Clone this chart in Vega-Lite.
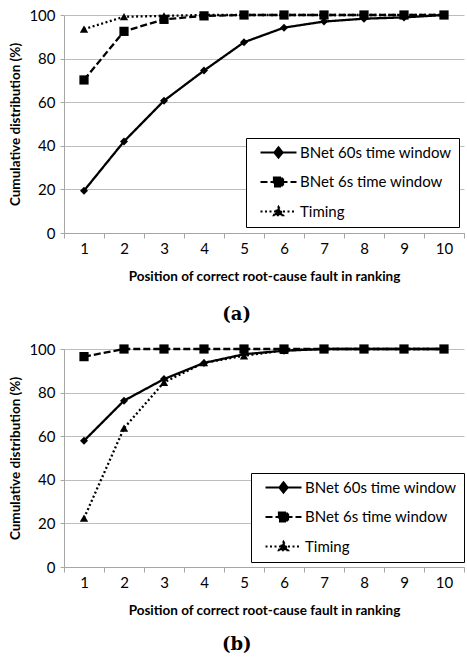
{
  "$schema": "https://vega.github.io/schema/vega-lite/v6.json",
  "padding": {"left": 8, "top": 8, "right": 0, "bottom": 0},
  "background": "white",
  "spacing": 18,
  "config": {
    "view": {"stroke": null},
    "axis": {
      "labelFont": "Lato", "labelFontSize": 15, "labelColor": "black",
      "titleFont": "Lato", "titleFontSize": 13.5, "titleFontWeight": "bold", "titleColor": "black",
      "domainColor": "#a6a6a6", "tickColor": "#a6a6a6", "gridColor": "#bdbdbd", "domainWidth": 1, "tickWidth": 1, "gridWidth": 1
    },
    "legend": {"orient": "none", "title": null,
      "strokeColor": "black", "fillColor": "white", "padding": 7,
      "symbolSize": 100, "symbolStrokeWidth": 2.2, "symbolStrokeColor": "black", "symbolFillColor": "black",
      "symbolOffset": 18, "labelOffset": 14, "labelLimit": 300, "labelFont": "Lato", "labelFontSize": 15, "labelColor": "black", "rowPadding": 10.5},
    "title": {"font": "DejaVu Serif", "fontSize": 18, "fontWeight": "bold", "color": "black", "orient": "bottom", "frame": "bounds", "anchor": "middle", "offset": 23}
  },
  "data": {"values": [
    {"panel": "a", "series": "BNet 60s time window", "pos": 1, "value": 19.4},
    {"panel": "a", "series": "BNet 60s time window", "pos": 2, "value": 42},
    {"panel": "a", "series": "BNet 60s time window", "pos": 3, "value": 60.7},
    {"panel": "a", "series": "BNet 60s time window", "pos": 4, "value": 74.5},
    {"panel": "a", "series": "BNet 60s time window", "pos": 5, "value": 87.5},
    {"panel": "a", "series": "BNet 60s time window", "pos": 6, "value": 94.2},
    {"panel": "a", "series": "BNet 60s time window", "pos": 7, "value": 97},
    {"panel": "a", "series": "BNet 60s time window", "pos": 8, "value": 98.3},
    {"panel": "a", "series": "BNet 60s time window", "pos": 9, "value": 98.9},
    {"panel": "a", "series": "BNet 60s time window", "pos": 10, "value": 100},
    {"panel": "a", "series": "BNet 6s time window", "pos": 1, "value": 70.2},
    {"panel": "a", "series": "BNet 6s time window", "pos": 2, "value": 92.5},
    {"panel": "a", "series": "BNet 6s time window", "pos": 3, "value": 98},
    {"panel": "a", "series": "BNet 6s time window", "pos": 4, "value": 99.6},
    {"panel": "a", "series": "BNet 6s time window", "pos": 5, "value": 100},
    {"panel": "a", "series": "BNet 6s time window", "pos": 6, "value": 100},
    {"panel": "a", "series": "BNet 6s time window", "pos": 7, "value": 100},
    {"panel": "a", "series": "BNet 6s time window", "pos": 8, "value": 100},
    {"panel": "a", "series": "BNet 6s time window", "pos": 9, "value": 100},
    {"panel": "a", "series": "BNet 6s time window", "pos": 10, "value": 100},
    {"panel": "a", "series": "Timing", "pos": 1, "value": 93.5},
    {"panel": "a", "series": "Timing", "pos": 2, "value": 99.2},
    {"panel": "a", "series": "Timing", "pos": 3, "value": 99.6},
    {"panel": "a", "series": "Timing", "pos": 4, "value": 100},
    {"panel": "a", "series": "Timing", "pos": 5, "value": 100},
    {"panel": "a", "series": "Timing", "pos": 6, "value": 100},
    {"panel": "a", "series": "Timing", "pos": 7, "value": 100},
    {"panel": "a", "series": "Timing", "pos": 8, "value": 100},
    {"panel": "a", "series": "Timing", "pos": 9, "value": 100},
    {"panel": "a", "series": "Timing", "pos": 10, "value": 100},
    {"panel": "b", "series": "BNet 60s time window", "pos": 1, "value": 57.9},
    {"panel": "b", "series": "BNet 60s time window", "pos": 2, "value": 76.3},
    {"panel": "b", "series": "BNet 60s time window", "pos": 3, "value": 86.2},
    {"panel": "b", "series": "BNet 60s time window", "pos": 4, "value": 93.6},
    {"panel": "b", "series": "BNet 60s time window", "pos": 5, "value": 97.6},
    {"panel": "b", "series": "BNet 60s time window", "pos": 6, "value": 99.2},
    {"panel": "b", "series": "BNet 60s time window", "pos": 7, "value": 100},
    {"panel": "b", "series": "BNet 60s time window", "pos": 8, "value": 100},
    {"panel": "b", "series": "BNet 60s time window", "pos": 9, "value": 100},
    {"panel": "b", "series": "BNet 60s time window", "pos": 10, "value": 100},
    {"panel": "b", "series": "BNet 6s time window", "pos": 1, "value": 96.5},
    {"panel": "b", "series": "BNet 6s time window", "pos": 2, "value": 100},
    {"panel": "b", "series": "BNet 6s time window", "pos": 3, "value": 100},
    {"panel": "b", "series": "BNet 6s time window", "pos": 4, "value": 100},
    {"panel": "b", "series": "BNet 6s time window", "pos": 5, "value": 100},
    {"panel": "b", "series": "BNet 6s time window", "pos": 6, "value": 100},
    {"panel": "b", "series": "BNet 6s time window", "pos": 7, "value": 100},
    {"panel": "b", "series": "BNet 6s time window", "pos": 8, "value": 100},
    {"panel": "b", "series": "BNet 6s time window", "pos": 9, "value": 100},
    {"panel": "b", "series": "BNet 6s time window", "pos": 10, "value": 100},
    {"panel": "b", "series": "Timing", "pos": 1, "value": 22.4},
    {"panel": "b", "series": "Timing", "pos": 2, "value": 63.7},
    {"panel": "b", "series": "Timing", "pos": 3, "value": 84.7},
    {"panel": "b", "series": "Timing", "pos": 4, "value": 93.7},
    {"panel": "b", "series": "Timing", "pos": 5, "value": 96.9},
    {"panel": "b", "series": "Timing", "pos": 6, "value": 99.4},
    {"panel": "b", "series": "Timing", "pos": 7, "value": 100},
    {"panel": "b", "series": "Timing", "pos": 8, "value": 100},
    {"panel": "b", "series": "Timing", "pos": 9, "value": 100},
    {"panel": "b", "series": "Timing", "pos": 10, "value": 100}
  ]},
  "vconcat": [
    {
      "title": {"text": "(a)"},
      "width": 400, "height": 218,
      "transform": [{"filter": "datum.panel === 'a'"}],
      "encoding": {
        "x": {"field": "pos", "type": "ordinal", "bandPosition": 0.5,
          "scale": {"type": "band", "paddingInner": 0, "paddingOuter": 0},
          "axis": {"title": "Position of correct root-cause fault in ranking", "tickBand": "extent", "labelAngle": 0, "grid": false, "tickSize": 5, "labelPadding": 3, "titlePadding": 13}},
        "y": {"field": "value", "type": "quantitative",
          "scale": {"domain": [0, 100], "nice": false},
          "axis": {"title": "Cumulative distribution (%)", "values": [0, 20, 40, 60, 80, 100], "tickSize": 4, "labelPadding": 5, "titlePadding": 6, "grid": true}}
      },
      "layer": [
        {
          "mark": {"type": "line", "color": "black", "strokeWidth": 2.3},
          "encoding": {
            "strokeDash": {"field": "series", "type": "nominal",
              "scale": {"domain": ["BNet 60s time window", "BNet 6s time window", "Timing"], "range": [[1, 0], [7, 3], [2, 2.5]]},
              "legend": {"legendX": 182, "legendY": 123,
                "encode": {"symbols": {"update": {"shape": {"signal": "datum.value === 'Timing' ? 'M-3.6,0L3.6,0M0,-0.9L0.9,0.75L-0.9,0.75Z' : datum.value === 'BNet 6s time window' ? 'M-3.6,0L3.6,0M-0.9,-0.9L0.9,-0.9L0.9,0.9L-0.9,0.9Z' : 'M-3.6,0L3.6,0M0,-1L0.8,0L0,1L-0.8,0Z'"}}}}}
            }
          }
        },
        {
          "transform": [{"filter": "datum.series === 'BNet 60s time window'"}],
          "mark": {"type": "point", "filled": true, "color": "black", "opacity": 1, "shape": "diamond", "size": 64}
        },
        {
          "transform": [{"filter": "datum.series === 'BNet 6s time window'"}],
          "mark": {"type": "point", "filled": true, "color": "black", "opacity": 1, "shape": "square", "size": 85}
        },
        {
          "transform": [{"filter": "datum.series === 'Timing'"}],
          "mark": {"type": "point", "filled": true, "color": "black", "opacity": 1, "shape": "triangle-up", "size": 70}
        }
      ]
    },
    {
      "title": {"text": "(b)", "offset": 19},
      "width": 400, "height": 218,
      "transform": [{"filter": "datum.panel === 'b'"}],
      "encoding": {
        "x": {"field": "pos", "type": "ordinal", "bandPosition": 0.5,
          "scale": {"type": "band", "paddingInner": 0, "paddingOuter": 0},
          "axis": {"title": "Position of correct root-cause fault in ranking", "tickBand": "extent", "labelAngle": 0, "grid": false, "tickSize": 5, "labelPadding": 3, "titlePadding": 13}},
        "y": {"field": "value", "type": "quantitative",
          "scale": {"domain": [0, 100], "nice": false},
          "axis": {"title": "Cumulative distribution (%)", "values": [0, 20, 40, 60, 80, 100], "tickSize": 4, "labelPadding": 5, "titlePadding": 6, "grid": true}}
      },
      "layer": [
        {
          "mark": {"type": "line", "color": "black", "strokeWidth": 2.3},
          "encoding": {
            "strokeDash": {"field": "series", "type": "nominal",
              "scale": {"domain": ["BNet 60s time window", "BNet 6s time window", "Timing"], "range": [[1, 0], [7, 3], [2, 2.5]]},
              "legend": {"legendX": 187, "legendY": 124,
                "encode": {"symbols": {"update": {"shape": {"signal": "datum.value === 'Timing' ? 'M-3.6,0L3.6,0M0,-0.9L0.9,0.75L-0.9,0.75Z' : datum.value === 'BNet 6s time window' ? 'M-3.6,0L3.6,0M-0.9,-0.9L0.9,-0.9L0.9,0.9L-0.9,0.9Z' : 'M-3.6,0L3.6,0M0,-1L0.8,0L0,1L-0.8,0Z'"}}}}}
            }
          }
        },
        {
          "transform": [{"filter": "datum.series === 'BNet 60s time window'"}],
          "mark": {"type": "point", "filled": true, "color": "black", "opacity": 1, "shape": "diamond", "size": 64}
        },
        {
          "transform": [{"filter": "datum.series === 'BNet 6s time window'"}],
          "mark": {"type": "point", "filled": true, "color": "black", "opacity": 1, "shape": "square", "size": 85}
        },
        {
          "transform": [{"filter": "datum.series === 'Timing'"}],
          "mark": {"type": "point", "filled": true, "color": "black", "opacity": 1, "shape": "triangle-up", "size": 70}
        }
      ]
    }
  ],
  "resolve": {"scale": {"x": "independent", "y": "independent", "strokeDash": "independent"}, "legend": {"strokeDash": "independent"}}
}
